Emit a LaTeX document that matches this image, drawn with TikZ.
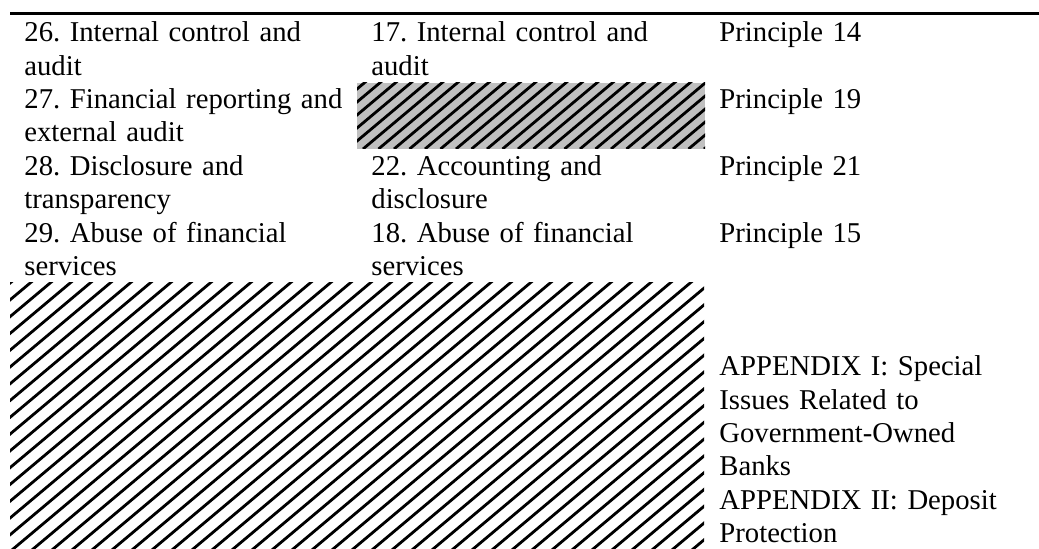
\documentclass[tikz,border=0pt]{standalone}
\usepackage{fontspec}
\setmainfont{Liberation Serif}
\usetikzlibrary{positioning}
\definecolor{hatchgray}{RGB}{192,192,192}

\begin{document}
\begin{tikzpicture}[
  x=0.5pt, y=-0.5pt,
  font=\fontsize{14.35pt}{16.7pt}\selectfont\frenchspacing,
  % Cell styles
  celltext/.style={anchor=base west, inner sep=0pt, align=left, text width=165pt},
  % Line styles
  hatchline/.style={draw=black, line width=1.4pt},
  toprule/.style={draw=black, line width=1.65pt}
]
  \useasboundingbox (0,0) rectangle (1039,549);

  % ==========================================
  % TOP RULE
  % ==========================================
  \draw[toprule] (10,13.5) -- (1039,13.5);

  % ==========================================
  % ROW 1 (baseline y = 41.7)
  % ==========================================
  \node[celltext] (sec26) at (24,41.7) {26. Internal control and\\audit};
  \node[celltext] (sec17) at (371,41.7) {17. Internal control and\\audit};
  \node[celltext] (pr14) at (719,41.7) {Principle 14};

  % ==========================================
  % ROW 2 (baseline y = 108.5)
  % ==========================================
  \node[celltext] (sec27) at (24,108.5) {27. Financial reporting and\\external audit};
  % Grey hatched empty cell
  \fill[hatchgray] (357,83) rectangle (705,149);
  \begin{scope}
    \clip (357,83) rectangle (705,149);
    \foreach \xs in {270,285.5,...,720}
      \draw[hatchline] (\xs,149) -- ++(100,-83.9);
  \end{scope}
  \node[celltext] (pr19) at (719,108.5) {Principle 19};

  % ==========================================
  % ROW 3 (baseline y = 175.3)
  % ==========================================
  \node[celltext] (sec28) at (24,175.3) {28. Disclosure and\\transparency};
  \node[celltext] (sec22) at (371,175.3) {22. Accounting and\\disclosure};
  \node[celltext] (pr21) at (719,175.3) {Principle 21};

  % ==========================================
  % ROW 4 (baseline y = 242.1)
  % ==========================================
  \node[celltext] (sec29) at (24,242.1) {29. Abuse of financial\\services};
  \node[celltext] (sec18) at (371,242.1) {18. Abuse of financial\\services};
  \node[celltext] (pr15) at (719,242.1) {Principle 15};

  % ==========================================
  % ROW 5: APPENDICES
  % ==========================================
  % White hatched empty cells
  \begin{scope}
    \clip (10,283) rectangle (704,549);
    \foreach \xs in {-320,-300,...,720}
      \draw[hatchline] (\xs,560) -- ++(400,-335.6);
  \end{scope}
  \node[celltext] (appx) at (719,375.7) {APPENDIX I: Special\\Issues Related to\\Government-Owned\\Banks\\APPENDIX II: Deposit\\Protection};

\end{tikzpicture}
\end{document}
